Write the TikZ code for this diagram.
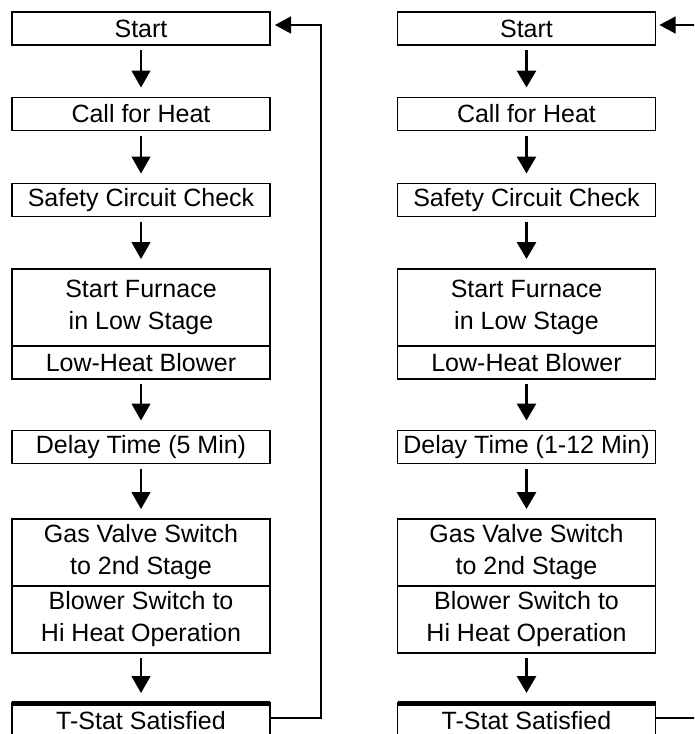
\documentclass[tikz,border=0pt]{standalone}
\usepackage{fontspec}
\setmainfont{Liberation Sans}
\usetikzlibrary{arrows.meta,positioning}

\def\colwidth{258}
\def\colL{141}
\def\colR{526.5}

\begin{document}
\begin{tikzpicture}[x=1pt, y=-1pt,
% Here are defined the boxes and arrows parameters
bloc/.style={
rectangle, draw=black, line width=1.8pt, inner sep=0, outer sep=0,
minimum width=\colwidth, align=center,
font=\fontsize{25}{32}\selectfont },
bloc1/.style={
bloc,
minimum height=33 },
bloc2/.style={
bloc,
minimum height=77 },
bloc3/.style={
bloc,
minimum height=67 },
flow/.style={
-{Triangle[length=17pt,width=19pt]}, line width=1.3pt,
shorten <=5pt, shorten >=10pt },
flowbold/.style={
flow, line width=3pt },
feedback/.style={
-{Triangle[length=16pt,width=17pt]}, line width=1.3pt },
]

\clip (0,0) rectangle (694,734);
\fill[white] (0,0) rectangle (694,734);

%%%%%%%%%%%%%%%%%%%%%%%%
%%% LEFT CHART (5 min)
%%%%%%%%%%%%%%%%%%%%%%%%
\node[bloc1] (lstart) at (\colL,28.5) {Start};
\node[bloc1] (lcall) at (\colL,114) {Call for Heat};
\node[bloc1] (lsafe) at (\colL,200) {Safety Circuit Check};
\node[bloc2] (lfurn) at (\colL,307.5) {Start Furnace\\in Low Stage};
\node[bloc1, anchor=north] (llow) at (lfurn.south) {Low-Heat Blower};
\node[bloc1] (ldelay) at (\colL,447) {Delay Time (5 Min)};
\node[bloc3] (lgas) at (\colL,552.5) {Gas Valve Switch\\to 2nd Stage};
\node[bloc3, anchor=north] (lhigh) at (lgas.south) {Blower Switch to\\Hi Heat Operation};
\node[bloc1, minimum height=35] (ltstat) at (\colL,720.5) {T-Stat Satisfied};
\draw[line width=5pt] (ltstat.north west) -- (ltstat.north east);

\draw[flow] (lstart) -- (lcall);
\draw[flow] (lcall) -- (lsafe);
\draw[flow] (lsafe) -- (lfurn);
\draw[flow] (llow) -- (ldelay);
\draw[flow] (ldelay) -- (lgas);
\draw[flow] (lhigh) -- (ltstat);

% back to start
\coordinate (lret) at (321,25);
\draw[feedback] ([yshift=-15pt]ltstat.north east) -| (lret) -- ([xshift=5pt,yshift=3.5pt]lstart.east);

%%%%%%%%%%%%%%%%%%%%%%%%
%%% RIGHT CHART (1-12 min)
%%%%%%%%%%%%%%%%%%%%%%%%
\node[bloc1] (rstart) at (\colR,28.5) {Start};
\node[bloc1] (rcall) at (\colR,114) {Call for Heat};
\node[bloc1] (rsafe) at (\colR,200) {Safety Circuit Check};
\node[bloc2] (rfurn) at (\colR,307.5) {Start Furnace\\in Low Stage};
\node[bloc1, anchor=north] (rlow) at (rfurn.south) {Low-Heat Blower};
\node[bloc1] (rdelay) at (\colR,447) {Delay Time (1-12 Min)};
\node[bloc3] (rgas) at (\colR,552.5) {Gas Valve Switch\\to 2nd Stage};
\node[bloc3, anchor=north] (rhigh) at (rgas.south) {Blower Switch to\\Hi Heat Operation};
\node[bloc1, minimum height=35] (rtstat) at (\colR,720.5) {T-Stat Satisfied};
\draw[line width=5pt] (rtstat.north west) -- (rtstat.north east);

\draw[flowbold] (rstart) -- (rcall);
\draw[flowbold] (rcall) -- (rsafe);
\draw[flowbold] (rsafe) -- (rfurn);
\draw[flowbold] (rlow) -- (rdelay);
\draw[flowbold] (rdelay) -- (rgas);
\draw[flowbold] (rhigh) -- (rtstat);

% loop leaves the picture on the right
\coordinate (rin) at (700,25);
\coordinate (rout) at (700,718);
\draw[feedback] (rin) -- ([xshift=4pt,yshift=3.5pt]rstart.east);
\draw[line width=1.3pt] ([yshift=-15pt]rtstat.north east) -- (rout);

\end{tikzpicture}
\end{document}
